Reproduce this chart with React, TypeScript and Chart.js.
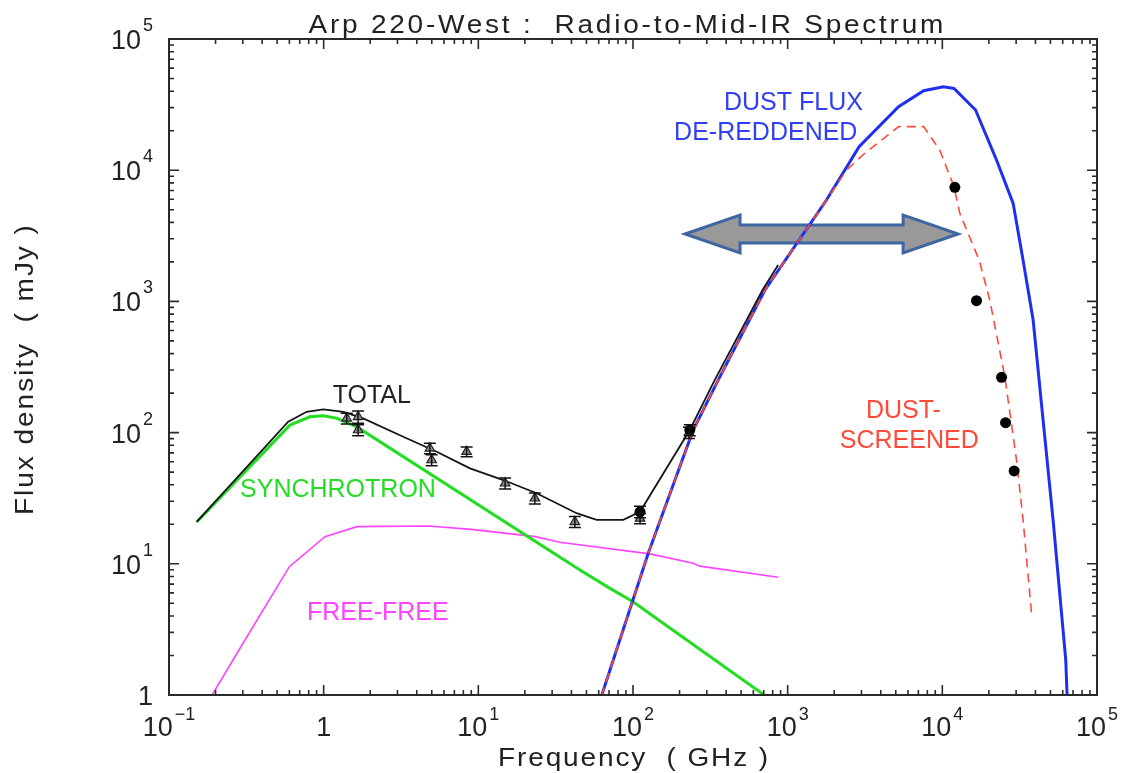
import React, { useEffect, useRef } from 'react';
import { Chart, registerables } from 'chart.js';

Chart.register(...registerables);

// ---- data (frequency in GHz, flux density in mJy) ----
const synchFreq = [0.151, 0.605, 0.815, 0.99, 1.21, 1.63, 45.4, 71, 100, 731];
const synchFlux = [20.8, 114, 132, 134.6, 129, 111, 8.97, 6.5, 5.14, 0.97];

const totalFreq = [0.151, 0.59, 0.776, 0.994, 1.34, 1.8, 3.27, 5.38, 8.83, 14.5, 23.8, 43.2, 58.2, 86.5, 111, 233, 338, 688, 868];
const totalFlux = [20.9, 121, 144, 150.5, 144, 128.5, 93, 71.5, 53.4, 43.5, 34.5, 24.3, 21.6, 21.6, 24.9, 104.7, 252, 1222, 1893];

const freeFreq = [0.19, 0.301, 0.6, 1.02, 1.64, 4.76, 9.0, 23.4, 33.6, 128.5, 245, 270, 869];
const freeFlux = [1.0, 2.48, 9.51, 16.1, 19.2, 19.4, 18.3, 16.1, 14.6, 11.9, 10.1, 9.6, 7.89];

const dustFreq = [62.5, 125.3, 245, 356, 713, 1782, 2897, 5210, 7570, 10150, 11900, 16400, 22400, 28700, 33250, 38650, 44800, 52000, 62800, 64100];
const dustFlux = [0.98, 12.0, 104.7, 252, 1222, 5930, 15100, 30470, 40360, 43300, 42000, 28770, 11970, 5590, 2069, 721, 125, 21.6, 1.85, 0.98];

const screenFreq = [62.5, 125.3, 245, 356, 713, 1782, 2404, 3060, 5210, 7570, 9620, 11900, 12970, 17300, 20260, 25350, 30180, 33280, 37900];
const screenFlux = [0.98, 12.0, 104.7, 252, 1222, 5930, 10040, 13060, 21480, 21480, 14260, 7480, 4690, 2069, 1026, 267, 61.8, 21.6, 3.93];

const radioFreq = [1.41, 1.67, 1.67, 4.86, 4.99, 8.4, 14.9, 23.2, 42.1, 111, 230];
const radioFlux = [128.5, 132, 104.7, 75.9, 61.8, 71.5, 41.1, 31.6, 20.9, 22.2, 100];
const radioErr = [12, 14, 10, 7, 6, 6, 4, 3, 2, 2, 10];

const mmFreq = [111, 233];
const mmFlux = [24.9, 104.7];
const mmErr = [2.5, 10];

const irFreq = [12050, 16630, 24150, 25640, 29130];
const irFlux = [7410, 1012, 264, 119, 51];

const xMajor = [0.1, 1, 10, 100, 1000, 10000, 100000];
const xLabels = [['10', '−1'], ['1', ''], ['10', '1'], ['10', '2'], ['10', '3'], ['10', '4'], ['10', '5']];
const yMajor = [1, 10, 100, 1000, 10000, 100000];
const yLabels = [['1', ''], ['10', '1'], ['10', '2'], ['10', '3'], ['10', '4'], ['10', '5']];

const titleText = 'Arp 220-West :  Radio-to-Mid-IR Spectrum';
const xTitleText = 'Frequency  ( GHz )';
const yTitleText = 'Flux density  ( mJy )';

// annotation labels anchored in data coordinates
const noteText = ['DUST FLUX', 'DE-REDDENED', 'TOTAL', 'SYNCHROTRON', 'FREE-FREE', 'DUST-', 'SCREENED'];
const noteFreq = [3063, 2825, 1.143, 0.288, 0.78, 3206, 2173];
const noteFlux = [28770, 16990, 168.2, 32.5, 3.73, 129, 76.3];
const noteAlign = ['right', 'right', 'left', 'left', 'left', 'left', 'left'];
const noteColor = ['#2f3ff2', '#2f3ff2', '#222222', '#22dd22', '#ff44ff', '#ff4a3a', '#ff4a3a'];

// double arrow (data coordinates of the tips)
const arrowFreq = [217, 12650];
const arrowFlux = 3264;

const FONT = '"Liberation Sans", Arial, Helvetica, sans-serif';

const pts = (xs: number[], ys: number[]) => xs.map((x, i) => ({ x, y: ys[i] }));

function fitted(ctx: CanvasRenderingContext2D, s: string, cx: number, y: number, font: string, width: number, color: string) {
  const stretch = 1.12;
  ctx.save();
  ctx.font = font;
  (ctx as any).letterSpacing = '0px';
  const w = ctx.measureText(s).width * stretch;
  const sp = Math.max(0, (width - w) / (s.length - 1)) / stretch;
  (ctx as any).letterSpacing = sp.toFixed(2) + 'px';
  ctx.fillStyle = color;
  ctx.textAlign = 'left';
  ctx.textBaseline = 'alphabetic';
  ctx.translate(cx - width / 2, y);
  ctx.scale(stretch, 1);
  ctx.fillText(s, 0, 0);
  ctx.restore();
}

const axesPlugin = {
  id: 'pgplotAxes',
  beforeDatasetsDraw(chart: any) {
    const { ctx, scales } = chart;
    const xs = scales.x, ys = scales.y;
    const x1 = xs.getPixelForValue(arrowFreq[0]);
    const x2 = xs.getPixelForValue(arrowFreq[1]);
    const yc = ys.getPixelForValue(arrowFlux);
    const head = 55, hh = 19, sh = 9;
    ctx.save();
    ctx.beginPath();
    ctx.moveTo(x1, yc);
    ctx.lineTo(x1 + head, yc - hh);
    ctx.lineTo(x1 + head, yc - sh);
    ctx.lineTo(x2 - head, yc - sh);
    ctx.lineTo(x2 - head, yc - hh);
    ctx.lineTo(x2, yc);
    ctx.lineTo(x2 - head, yc + hh);
    ctx.lineTo(x2 - head, yc + sh);
    ctx.lineTo(x1 + head, yc + sh);
    ctx.lineTo(x1 + head, yc + hh);
    ctx.closePath();
    ctx.fillStyle = '#999999';
    ctx.fill();
    ctx.lineWidth = 3;
    ctx.lineJoin = 'miter';
    ctx.strokeStyle = '#3d66a3';
    ctx.stroke();
    ctx.restore();
  },
  afterDatasetsDraw(chart: any) {
    const { ctx, scales } = chart;
    const xs = scales.x, ys = scales.y;
    ctx.save();
    ctx.strokeStyle = '#111';
    ctx.lineWidth = 1.5;
    const bar = (f: number, s: number, e: number) => {
      const x = xs.getPixelForValue(f);
      const yt = ys.getPixelForValue(s + e);
      const yb = ys.getPixelForValue(Math.max(s - e, 1e-3));
      ctx.beginPath();
      ctx.moveTo(x, yt); ctx.lineTo(x, yb);
      ctx.moveTo(x - 6, yt); ctx.lineTo(x + 6, yt);
      ctx.moveTo(x - 6, yb); ctx.lineTo(x + 6, yb);
      ctx.stroke();
    };
    radioFreq.forEach((f, i) => bar(f, radioFlux[i], radioErr[i]));
    mmFreq.forEach((f, i) => bar(f, mmFlux[i], mmErr[i]));
    ctx.restore();
  },
  afterDraw(chart: any) {
    const { ctx, chartArea: a, scales } = chart;
    const xs = scales.x, ys = scales.y;
    ctx.save();
    // frame
    ctx.strokeStyle = '#2a2a2a';
    ctx.lineWidth = 2;
    ctx.strokeRect(a.left, a.top, a.right - a.left, a.bottom - a.top);
    // ticks
    ctx.lineWidth = 1.6;
    ctx.beginPath();
    for (let d = -1; d <= 5; d++) {
      for (let k = 1; k <= 9; k++) {
        const v = k * Math.pow(10, d);
        if (v > 1e5 * 1.0001) break;
        const len = k === 1 ? 10 : 5;
        const x = xs.getPixelForValue(v);
        ctx.moveTo(x, a.bottom); ctx.lineTo(x, a.bottom - len);
        ctx.moveTo(x, a.top); ctx.lineTo(x, a.top + len);
      }
    }
    for (let d = 0; d <= 5; d++) {
      for (let k = 1; k <= 9; k++) {
        const v = k * Math.pow(10, d);
        if (v > 1e5 * 1.0001) break;
        const len = k === 1 ? 10 : 5;
        const y = ys.getPixelForValue(v);
        ctx.moveTo(a.left, y); ctx.lineTo(a.left + len, y);
        ctx.moveTo(a.right, y); ctx.lineTo(a.right - len, y);
      }
    }
    ctx.stroke();

    // tick labels
    const big = '27px ' + FONT, small = '18px ' + FONT;
    ctx.fillStyle = '#222';
    ctx.textBaseline = 'alphabetic';
    xMajor.forEach((v, i) => {
      const [b, e] = xLabels[i];
      ctx.font = big; const wb = ctx.measureText(b).width;
      ctx.font = small; const we = e ? ctx.measureText(e).width + 2 : 0;
      const x0 = xs.getPixelForValue(v) - (wb + we) / 2;
      ctx.textAlign = 'left';
      ctx.font = big; ctx.fillText(b, x0, a.bottom + 41);
      if (e) { ctx.font = small; ctx.fillText(e, x0 + wb + 2, a.bottom + 25); }
    });
    yMajor.forEach((v, i) => {
      const [b, e] = yLabels[i];
      const y = ys.getPixelForValue(v);
      const right = a.left - 16;
      ctx.font = small; const we = e ? ctx.measureText(e).width + 2 : 0;
      ctx.textAlign = 'right';
      ctx.font = big; ctx.fillText(b, right - we, y + 10);
      if (e) { ctx.font = small; ctx.textAlign = 'right'; ctx.fillText(e, right, y - 8); }
    });

    // titles
    fitted(ctx, titleText, 626, 33, '25px ' + FONT, 635, '#222');
    fitted(ctx, xTitleText, (a.left + a.right) / 2, 766, '25px ' + FONT, 270, '#222');
    ctx.save();
    ctx.translate(33, (a.top + a.bottom) / 2 + 3);
    ctx.rotate(-Math.PI / 2);
    fitted(ctx, yTitleText, 0, 0, '25px ' + FONT, 290, '#222');
    ctx.restore();

    // annotations
    noteText.forEach((t, i) => {
      ctx.font = '25px ' + FONT;
      ctx.fillStyle = noteColor[i];
      ctx.textAlign = noteAlign[i] as CanvasTextAlign;
      ctx.fillText(t, xs.getPixelForValue(noteFreq[i]), ys.getPixelForValue(noteFlux[i]));
    });
    ctx.restore();
  },
};

export default function App() {
  const ref = useRef<HTMLCanvasElement>(null);
  useEffect(() => {
    const canvas = ref.current!;
    const lineDs = (label: string, xsArr: number[], ysArr: number[], color: string, width: number, order: number, dash: number[] = []) => ({
      label,
      data: pts(xsArr, ysArr),
      showLine: true,
      borderColor: color,
      backgroundColor: color,
      borderWidth: width,
      borderDash: dash,
      pointRadius: 0,
      tension: 0,
      clip: 0,
      order,
    });
    const chart = new Chart(canvas, {
      type: 'scatter',
      data: {
        datasets: [
          {
            label: 'IR photometry',
            data: pts(irFreq, irFlux),
            pointStyle: 'circle',
            pointRadius: 5.5,
            backgroundColor: '#000',
            borderColor: '#000',
            borderWidth: 0,
            order: 0,
          } as any,
          {
            label: 'mm',
            data: pts(mmFreq, mmFlux),
            pointStyle: 'circle',
            pointRadius: 5.5,
            backgroundColor: '#000',
            borderColor: '#000',
            borderWidth: 0,
            order: 0,
          } as any,
          {
            label: 'radio',
            data: pts(radioFreq, radioFlux),
            pointStyle: 'triangle',
            pointRadius: 5.5,
            backgroundColor: '#8a8a8a',
            borderColor: '#222',
            borderWidth: 1.2,
            order: 1,
          } as any,
          lineDs('Dust screened', screenFreq, screenFlux, '#ff4a3a', 1.6, 2, [9, 6]),
          lineDs('Total', totalFreq, totalFlux, '#151515', 1.8, 3),
          lineDs('Dust de-reddened', dustFreq, dustFlux, '#1f2ff0', 3, 4),
          lineDs('Synchrotron', synchFreq, synchFlux, '#22dd22', 3, 5),
          lineDs('Free-free', freeFreq, freeFlux, '#ff44ff', 1.6, 6),
        ] as any,
      },
      options: {
        responsive: false,
        devicePixelRatio: 1,
        animation: false,
        layout: { padding: { left: 169, top: 39, right: 25, bottom: 78 } },
        plugins: { legend: { display: false }, tooltip: { enabled: false }, title: { display: false } },
        scales: {
          x: { type: 'logarithmic', min: 0.1, max: 100000, display: false },
          y: { type: 'logarithmic', min: 1, max: 100000, display: false },
        },
      } as any,
      plugins: [axesPlugin],
    });
    return () => chart.destroy();
  }, []);
  return (
    <div style={{ position: 'absolute', left: 0, top: 0, width: 1122, height: 773, background: '#fff' }}>
      <canvas ref={ref} width={1122} height={773} style={{ display: 'block', width: 1122, height: 773 }} />
    </div>
  );
}
